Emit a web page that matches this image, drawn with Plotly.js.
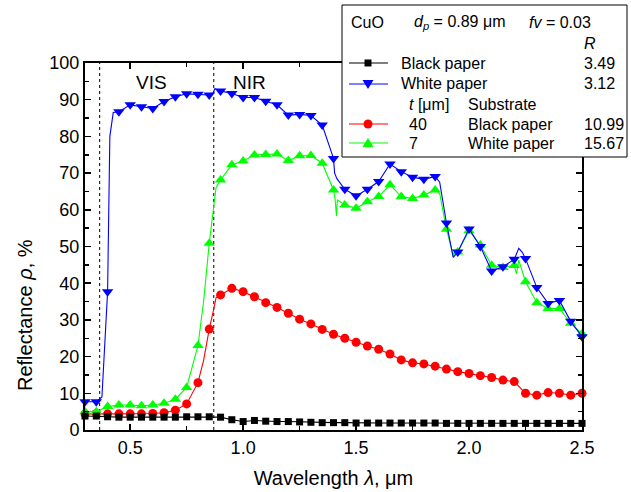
<!DOCTYPE html>
<html><head><meta charset="utf-8">
<script src="https://cdn.plot.ly/plotly-3.0.1.min.js"></script>
<style>html,body{margin:0;padding:0;background:#fff}#chart{width:631px;height:492px}</style>
</head><body><div id="chart"></div>
<script>
// ---- data ----
const wavelength = [0.30,0.35,0.40,0.45,0.50,0.55,0.60,0.65,0.70,0.75,0.80,0.85,0.90,0.95,1.00,1.05,1.10,1.15,1.20,1.25,1.30,1.35,1.40,1.45,1.50,1.55,1.60,1.65,1.70,1.75,1.80,1.85,1.90,1.95,2.00,2.05,2.10,2.15,2.20,2.25,2.30,2.35,2.40,2.45,2.50];

const blackPaper = [3.8,3.8,3.6,3.5,3.5,3.5,3.5,3.5,3.5,3.6,3.6,3.6,3.5,2.8,2.3,2.6,2.4,2.3,2.3,2.2,2.1,2.0,2.0,2.0,1.9,1.9,1.9,1.9,1.9,1.9,1.9,1.9,1.8,1.8,1.8,1.8,1.8,1.8,1.8,1.8,1.8,1.8,1.8,1.8,1.8];

const whitePaper = [7.7,7.7,37.7,86.7,88.6,88.1,87.6,89.5,90.8,91.6,91.5,91.3,92.4,91.7,90.6,90.6,89.6,88.6,85.8,86.0,85.7,83.1,74.0,65.6,63.8,65.6,67.7,72.5,70.4,68.9,68.3,69.1,56.4,48.5,54.8,50.0,43.3,44.5,46.5,46.7,38.8,34.5,35.3,29.6,25.4];
const whitePaperLineX = [0.375,0.39,0.41,0.425,0.865,0.875,1.405,1.415,1.87,1.93,2.22,2.235];
const whitePaperLineY = [9,25,80,86.5,91.6,93.0,70,68.5,67.5,47.0,49.5,48.5];

const film40Black = [4.4,4.5,4.4,4.4,4.4,4.4,4.5,4.7,5.4,7.1,12.9,27.5,36.8,38.6,37.7,36.3,34.7,33.4,31.8,30.2,28.9,27.4,26.1,25.0,23.9,22.9,22.0,20.7,19.1,18.3,18.0,17.4,16.6,15.9,15.4,14.8,14.3,13.6,13.2,10.0,9.5,10.2,10.0,9.5,10.0];
const film40LineX = [0.825,0.87,0.88];
const film40LineY = [19,33,36];

const film7White = [5.0,5.0,6.4,6.8,6.8,6.6,6.8,7.3,8.4,11.6,23.0,50.9,68.1,72.3,73.3,74.9,75.1,75.2,73.4,74.7,74.8,72.7,65.4,61.3,60.4,62.2,63.6,66.8,63.6,63.1,64.0,65.4,54.7,48.5,54.3,50.4,44.9,44.3,44.8,40.4,34.7,33.1,33.1,29.1,26.2];
const film7LineX = [0.825,0.87,0.88,1.407,1.413,1.417,1.87,1.93,2.21,2.22];
const film7LineY = [35,61,66,63,58.3,62.7,64.5,47.5,42.5,46.3];

const regionLines = [0.365, 0.87];
const regionLabels = ['VIS','NIR'];
const regionLabelX = [0.596, 1.03];

const xTicks = [0.5,1.0,1.5,2.0,2.5];
const yTicks = [0,10,20,30,40,50,60,70,80,90,100];

// ---- layout helpers ----
const W=631,H=492,ML=85,MR=49,MT=63,MB=62;
const PW=W-ML-MR, PH=H-MT-MB;
const px = x => (x-ML)/PW;
const py = y => (H-MB-y)/PH;
const FONT = 'Liberation Sans, Arial, Helvetica, sans-serif';

function merge(xs, ys, ex, ey){
  const pts = xs.map((x,i)=>[x,ys[i]]).concat(ex.map((x,i)=>[x,ey[i]]));
  pts.sort((a,b)=>a[0]-b[0]);
  return {x:pts.map(p=>p[0]), y:pts.map(p=>p[1])};
}
function series(ys, ex, ey, color, symbol, size){
  const m = merge(wavelength, ys, ex, ey);
  return [
    {x:m.x, y:m.y, mode:'lines', line:{color:color, width:1.1}, showlegend:false, hoverinfo:'skip'},
    {x:wavelength, y:ys, mode:'markers', marker:{color:color, symbol:symbol, size:size, line:{width:0}}, showlegend:false, cliponaxis:false}
  ];
}

const traces = [].concat(
  series(film40Black, film40LineX, film40LineY, '#FF0000', 'circle', 9),
  series(film7White, film7LineX, film7LineY, '#00FF00', 'triangle-up', 10),
  series(whitePaper, whitePaperLineX, whitePaperLineY, '#0000FF', 'triangle-down', 10),
  series(blackPaper, [], [], '#000000', 'square', 7)
);

const shapes = [];
regionLines.forEach(x => shapes.push({type:'line', xref:'x', yref:'paper', x0:x, x1:x, y0:0, y1:1, layer:'below', line:{color:'#000', width:1, dash:'dot'}}));

// legend box
shapes.push({type:'rect', xref:'paper', yref:'paper', x0:px(342), x1:px(627), y0:py(157), y1:py(5), fillcolor:'#fff', line:{color:'#000', width:1}, layer:'above'});
const legendRows = [
  {y:63, color:'#000000', m:'square'},
  {y:84, color:'#0000FF', m:'tdown'},
  {y:124, color:'#FF0000', m:'circle'},
  {y:143, color:'#00FF00', m:'tup'}
];
legendRows.forEach(r => {
  shapes.push({type:'line', xref:'paper', yref:'paper', x0:px(349), x1:px(388), y0:py(r.y), y1:py(r.y), line:{color:r.color, width:1.1}, layer:'above'});
  const cx=368, cy=r.y;
  if(r.m==='square') shapes.push({type:'rect', xref:'paper', yref:'paper', x0:px(cx-3.5), x1:px(cx+3.5), y0:py(cy+3.5), y1:py(cy-3.5), fillcolor:r.color, line:{width:0}, layer:'above'});
  if(r.m==='circle') shapes.push({type:'circle', xref:'paper', yref:'paper', x0:px(cx-4.5), x1:px(cx+4.5), y0:py(cy+4.5), y1:py(cy-4.5), fillcolor:r.color, line:{width:0}, layer:'above'});
  if(r.m==='tdown') shapes.push({type:'path', xref:'paper', yref:'paper', path:`M${px(cx-5.5)},${py(cy-4)} L${px(cx+5.5)},${py(cy-4)} L${px(cx)},${py(cy+5)} Z`, fillcolor:r.color, line:{width:0}, layer:'above'});
  if(r.m==='tup') shapes.push({type:'path', xref:'paper', yref:'paper', path:`M${px(cx-5.5)},${py(cy+4)} L${px(cx+5.5)},${py(cy+4)} L${px(cx)},${py(cy-5)} Z`, fillcolor:r.color, line:{width:0}, layer:'above'});
});

const legendTexts = [
  ['CuO',350,23],
  ['<i>d</i><sub><i>p</i></sub> = 0.89 μm',413,23],
  ['<i>fv</i> = 0.03',528,23],
  ['<i>R</i>',583,43],
  ['Black paper',400,63],['3.49',583,63],
  ['White paper',400,84],['3.12',583,84],
  ['<i>t</i> [μm]',408,104],['Substrate',467,104],
  ['40',408,124],['Black paper',467,124],['10.99',583,124],
  ['7',408,143],['White paper',467,143],['15.67',583,143]
];
const annotations = legendTexts.map(t => ({text:t[0], xref:'paper', yref:'paper', x:px(t[1]), y:py(t[2]), xanchor:'left', yanchor:'middle', showarrow:false, borderpad:0, font:{family:FONT, size:16, color:'#000'}}));
regionLabels.forEach((s,i) => annotations.push({text:s, xref:'x', yref:'y', x:regionLabelX[i], y:94.8, showarrow:false, xanchor:'center', yanchor:'middle', font:{family:FONT, size:19, color:'#000'}}));
// y-axis title (placed as in the reference, below the plot's centre)
annotations.push({text:'Reflectance <i>ρ</i>, %', xref:'paper', yref:'paper', x:px(25), y:py(315), textangle:-90, xanchor:'center', yanchor:'middle', showarrow:false, font:{family:FONT, size:20, color:'#000'}});

const axisCommon = {
  showline:true, linecolor:'#000', linewidth:2, mirror:'ticks', ticks:'inside', tickcolor:'#000', tickwidth:1.5, ticklen:6,
  showgrid:false, zeroline:false, tickfont:{family:FONT, size:18, color:'#000'}, automargin:false
};

const layout = {
  width:W, height:H, margin:{l:ML, r:MR, t:MT, b:MB, pad:0},
  paper_bgcolor:'#fff', plot_bgcolor:'#fff',
  font:{family:FONT, color:'#000'},
  showlegend:false,
  xaxis: Object.assign({}, axisCommon, {
    range:[0.3,2.5], tickvals:xTicks, ticktext:xTicks.map(v=>v.toFixed(1)),
    minor:{dtick:0.25, tick0:0, ticks:'inside', ticklen:4, tickcolor:'#000', tickwidth:1.5},
    title:{text:'Wavelength <i>λ</i>, μm', font:{family:FONT, size:20, color:'#000'}, standoff:14}
  }),
  yaxis: Object.assign({}, axisCommon, {
    range:[0,100], tickvals:yTicks, ticktext:yTicks.map(String),
    minor:{dtick:5, tick0:0, ticks:'inside', ticklen:4, tickcolor:'#000', tickwidth:1.5}
  }),
  shapes: shapes,
  annotations: annotations
};

Plotly.newPlot('chart', traces, layout, {staticPlot:true, displayModeBar:false});
</script>
</body></html>
